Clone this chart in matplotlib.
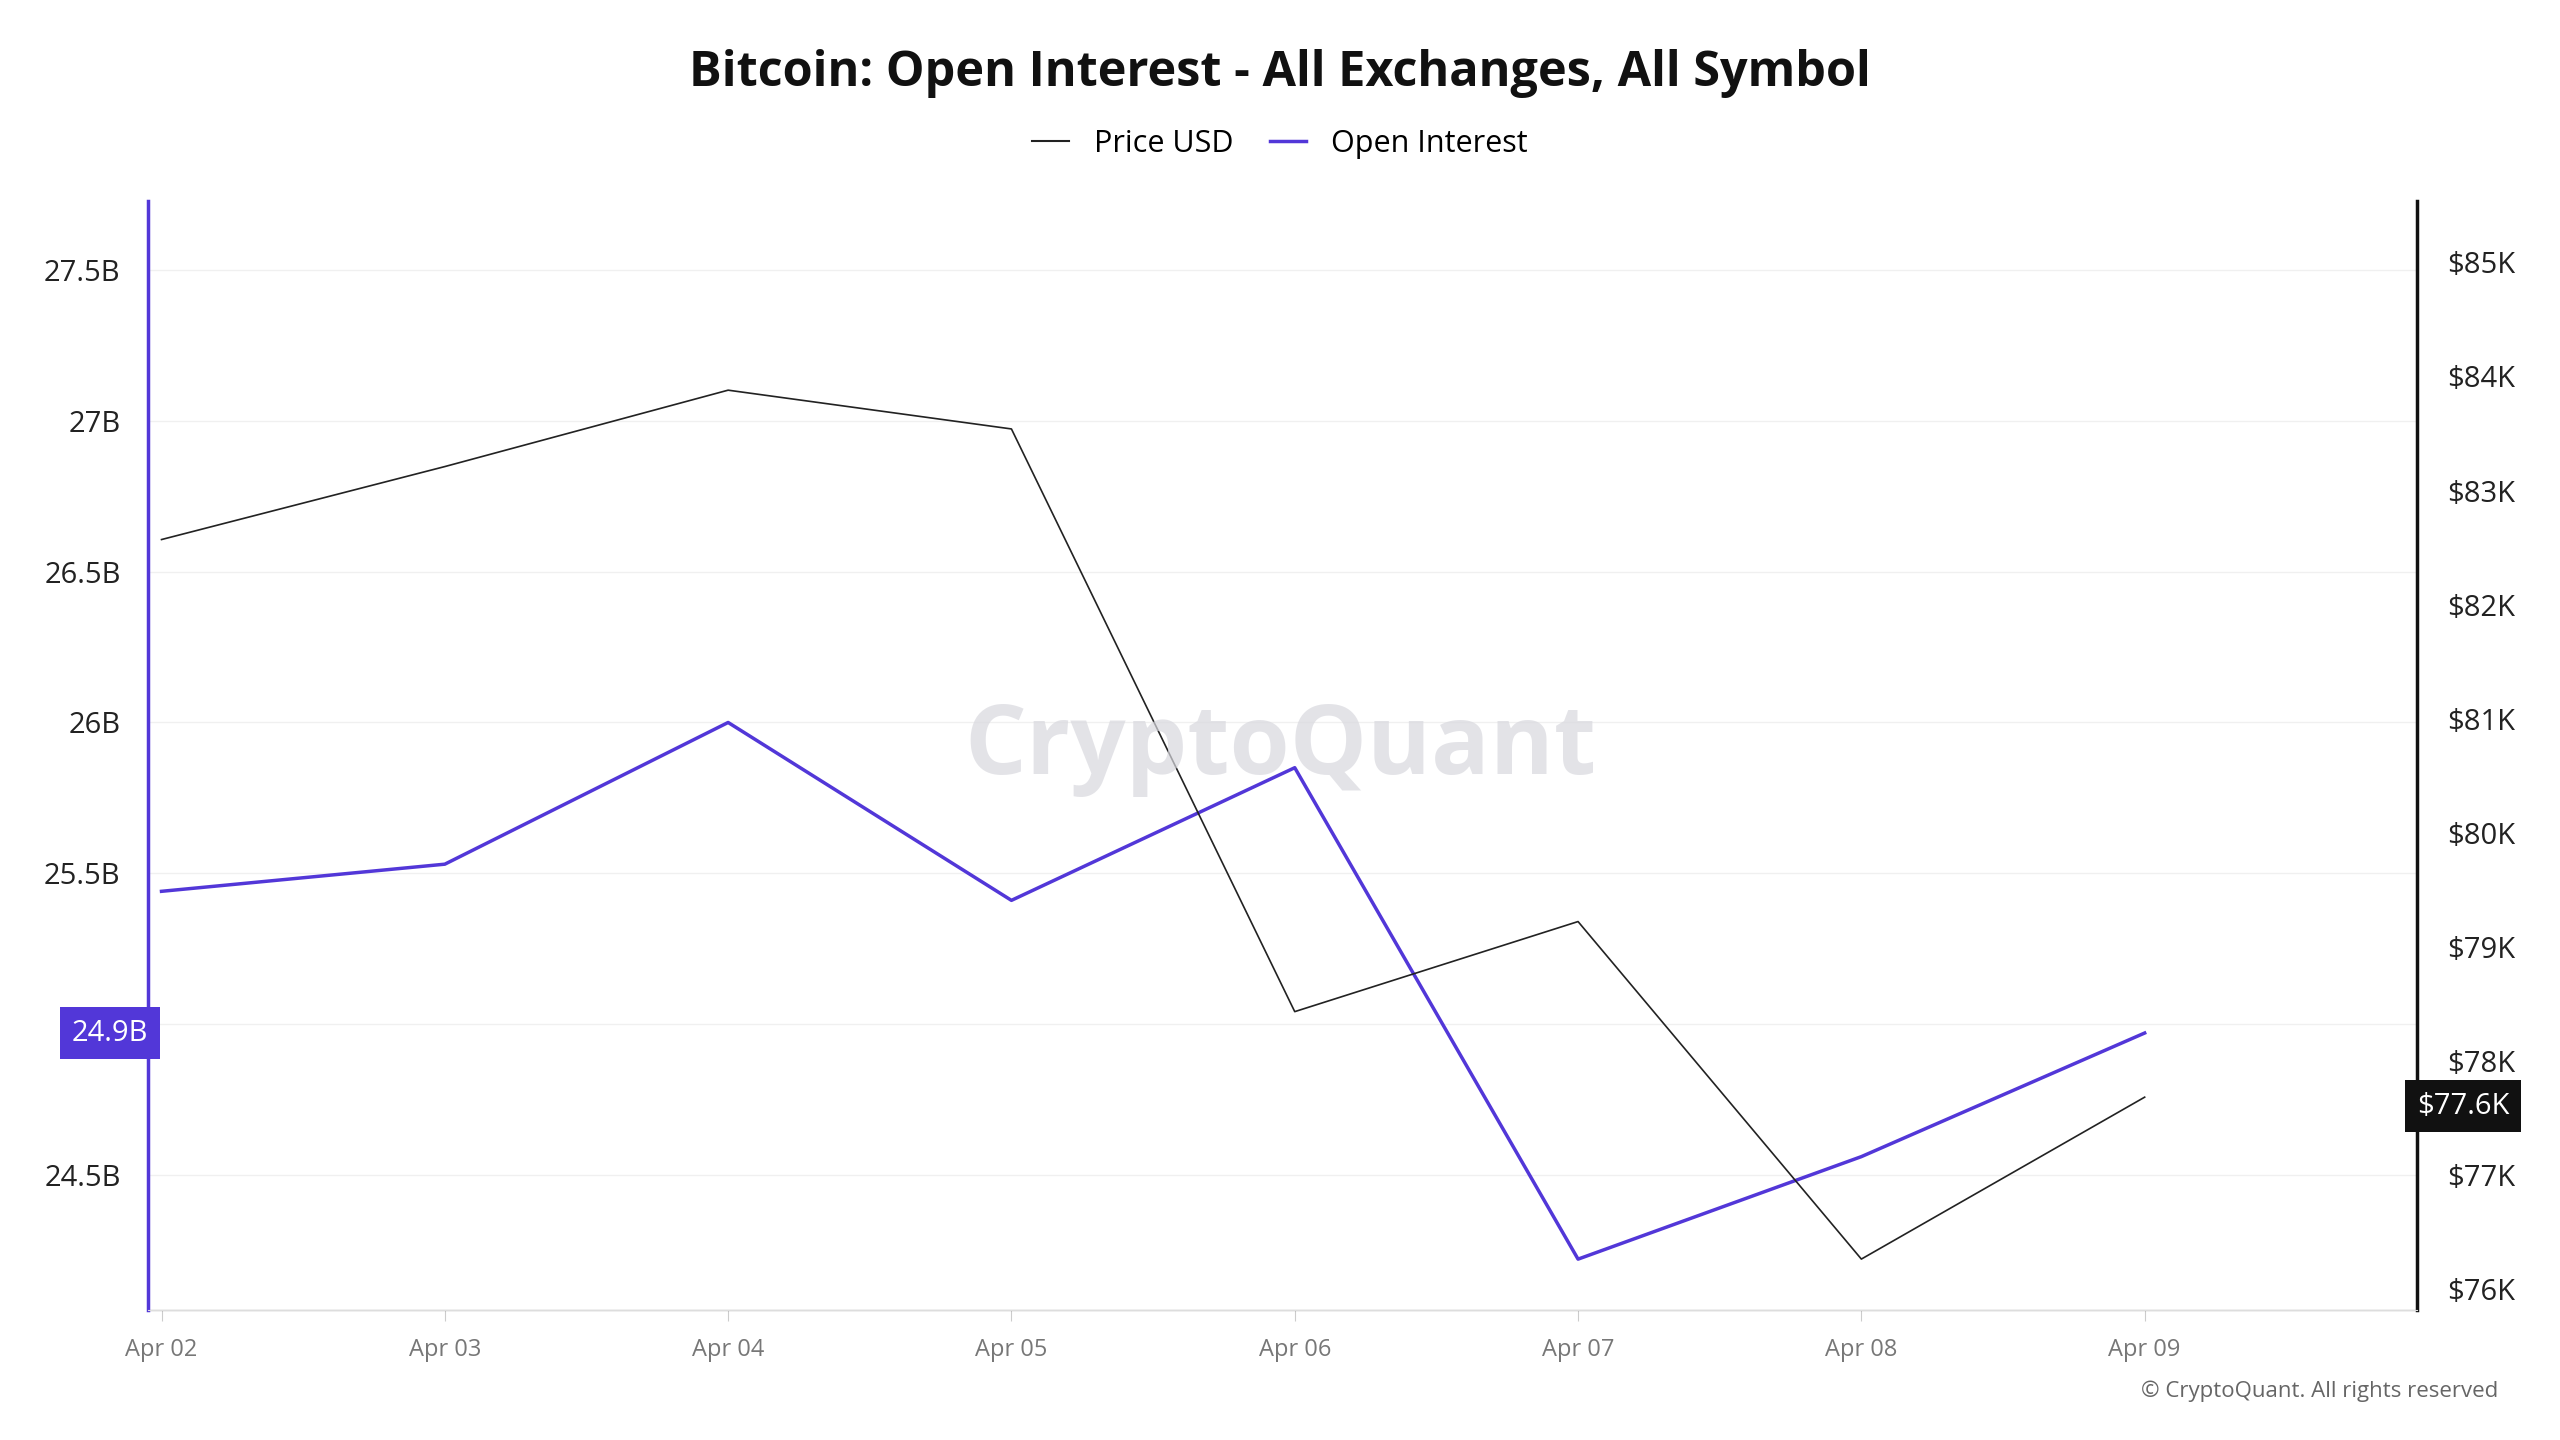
import matplotlib
matplotlib.use("Agg")
import matplotlib.pyplot as plt

dates = ["Apr 02","Apr 03","Apr 04","Apr 05","Apr 06","Apr 07","Apr 08","Apr 09"]
oi = [25.44, 25.53, 26.00, 25.41, 25.85, 24.22, 24.56, 24.97]
price = [82.57, 83.21, 83.88, 83.54, 78.43, 79.22, 76.26, 77.68]
oi_ticks = [24.5, 25.0, 25.5, 26.0, 26.5, 27.0, 27.5]
oi_labels = ["24.5B", "", "25.5B", "26B", "26.5B", "27B", "27.5B"]
price_ticks = [76, 77, 78, 79, 80, 81, 82, 83, 84, 85]

plt.rcParams["font.family"] = "Open Sans"
fig = plt.figure(figsize=(25.6, 14.4), dpi=100)
ax = fig.add_axes([0.058, 0.090, 0.886, 0.7705])
ax2 = ax.twinx()
x = range(len(dates))
purple = "#5237d8"
ax.plot(x, oi, color=purple, lw=2.5, zorder=3)
ax2.plot(x, price, color="#222222", lw=1.2)
ax.set_xlim(-0.046, 7.96)
ax.set_ylim(24.05, 27.73)
ax2.set_ylim(75.81, 85.54)
ax.set_xticks(list(x)); ax.set_xticklabels(dates, fontsize=17, color="#777777")
ax.set_yticks(oi_ticks); ax.set_yticklabels(oi_labels, fontsize=21, color="#222222")
ax2.set_yticks(price_ticks); ax2.set_yticklabels([f"${v}K" for v in price_ticks], fontsize=21, color="#222222")
ax.grid(axis="y", color="#f0f0f0", lw=1)
for s in ["top"]:
    ax.spines[s].set_visible(False); ax2.spines[s].set_visible(False)
ax2.spines["left"].set_color(purple); ax2.spines["left"].set_linewidth(2.5)
ax2.spines["right"].set_color("#111111"); ax2.spines["right"].set_linewidth(2.5)
ax2.spines["bottom"].set_color("#dddddd")
ax.tick_params(axis="y", length=0, pad=20)
ax2.tick_params(axis="y", length=0, pad=22)
ax.tick_params(axis="x", length=8, color="#cccccc", pad=12)
ax.text(-0.0, 24.97, "24.9B", transform=ax.get_yaxis_transform(), ha="right", va="center",
        fontsize=21, color="white", bbox=dict(boxstyle="square,pad=0.4", fc=purple, ec="none"))
ax2.text(1.0, 77.6, "$77.6K", transform=ax2.get_yaxis_transform(), ha="left", va="center",
         fontsize=21, color="white", bbox=dict(boxstyle="square,pad=0.4", fc="#111111", ec="none"))
fig.text(0.5, 0.48, "CryptoQuant", fontsize=70, color="#d8d8de", ha="center", va="center", weight="bold", alpha=0.7)
fig.text(0.5, 0.949, "Bitcoin: Open Interest - All Exchanges, All Symbol", fontsize=35, weight="bold", ha="center", va="center", color="#111111")
from matplotlib.lines import Line2D
h = [Line2D([], [], color="#222222", lw=1.5), Line2D([], [], color=purple, lw=2.5)]
fig.legend(h, ["Price USD", "Open Interest"], loc="center", bbox_to_anchor=(0.5, 0.9), ncol=2, frameon=False, fontsize=22, handlelength=1.2, columnspacing=1.2)
fig.text(0.976, 0.03, "© CryptoQuant. All rights reserved", fontsize=16, ha="right", color="#666666")
fig.savefig("out.png", dpi=100)
